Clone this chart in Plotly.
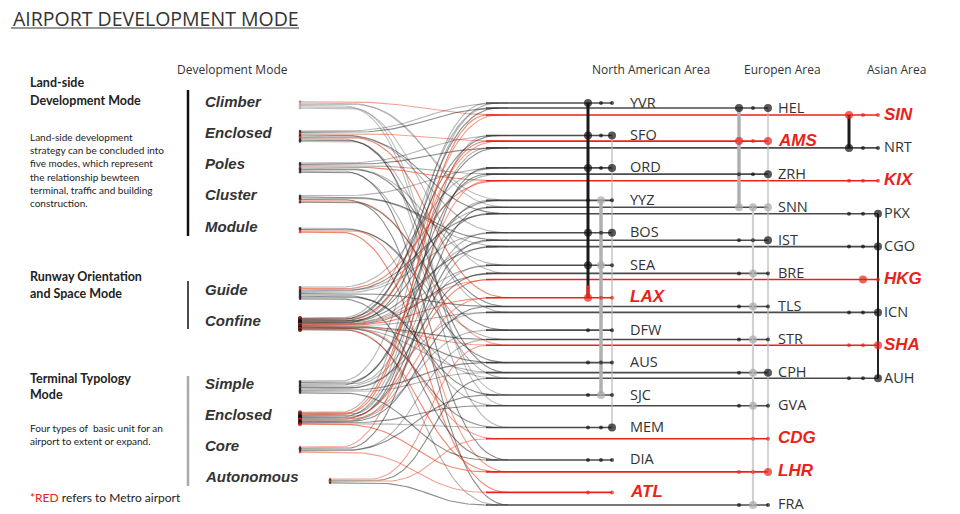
import numpy as np
import plotly.graph_objects as go

# ---------------- data ----------------
LAND_MODES = ["Climber", "Enclosed", "Poles", "Cluster", "Module"]
RUNWAY_MODES = ["Guide", "Confine"]
TERMINAL_MODES = ["Simple", "Enclosed", "Core", "Autonomous"]

NA_CODES = ["YVR", "SFO", "ORD", "YYZ", "BOS", "SEA", "LAX", "DFW", "AUS", "SJC", "MEM", "DIA", "ATL"]
NA_LAND = ["Enclosed", "Poles", "Cluster", "Climber", "Enclosed", "Poles", "Enclosed", "Cluster",
           "Module", "Climber", "Enclosed", "Poles", "Module"]
NA_RUNWAY = ["Confine", "Confine", "Guide", "Confine", "Guide", "Confine", "Confine", None,
             "Confine", "Guide", "Confine", "Guide", None]
NA_TERMINAL = ["Simple", "Enclosed", "Enclosed", "Simple", "Enclosed", "Simple", "Enclosed", "Enclosed",
               "Simple", "Core", "Enclosed", "Simple", "Core"]
NA_DOTS = ["Bk Sk Sk", "Bk Sk Bk", "Bk Sk Bk", "Sk Bg Sk", "Bk Sk Bk", "Bk Bg Sk", "Br Sr Sr",
           "Sk -- Sk", "Sk Sk Sk", "Sk Bg Sk", "Sk Sk Bk", "Sk Sk Sk", "Sr -- Sr"]

EU_CODES = ["HEL", "AMS", "ZRH", "SNN", "IST", "BRE", "TLS", "STR", "CPH", "GVA", "CDG", "LHR", "FRA"]
EU_LAND = ["Enclosed", "Enclosed", "Poles", "Climber", "Cluster", "Climber", "Poles", "Module",
           "Enclosed", "Climber", None, "Module", "Cluster"]
EU_RUNWAY = ["Confine", "Confine", "Confine", "Guide", "Confine", "Confine", "Guide", "Confine",
             "Confine", "Guide", "Confine", "Confine", "Confine"]
EU_TERMINAL = ["Enclosed", "Enclosed", "Simple", "Core", "Enclosed", "Simple", "Enclosed", "Core",
               "Simple", "Enclosed", "Autonomous", "Enclosed", "Autonomous"]
EU_DOTS = ["Bk Sk Bk", "Br Sr Br", "Sk Sk Bk", "Bg Bg Bg", "Sk Sk Bk", "Sk Bg Sk", "Sk Bg Sk",
           "Sk Bg Sk", "Sk Bg Bk", "Sk Bg Sk", "-- Sr Sr", "Sr Sr Br", "Sk Bg Sk"]

ASIA_CODES = ["SIN", "NRT", "KIX", "PKX", "CGO", "HKG", "ICN", "SHA", "AUH"]
ASIA_LAND = ["Climber", "Poles", "Poles", "Enclosed", "Cluster", None, "Enclosed", "Cluster", "Poles"]
ASIA_RUNWAY = ["Confine", "Confine", "Guide", "Guide", "Confine", "Confine", "Confine", "Confine", "Guide"]
ASIA_TERMINAL = ["Enclosed", "Enclosed", "Core", "Simple", "Enclosed", "Enclosed", "Simple",
                 "Autonomous", "Autonomous"]
ASIA_DOTS = ["Br Sr Sr", "Bk Sk Sk", "Sr Sr Sr", "Sk Sk Bk", "Sk Sk Bk", "-- Br Sr", "Sk Sk Bk",
             "Sr Sr Br", "Sk Sk Bk"]

METRO = ["SIN", "AMS", "KIX", "HKG", "SHA", "LAX", "CDG", "LHR", "ATL"]

# vertical connector bars: area, dot column, first airport, last airport, tone
BARS = [
    ("NA", 0, "YVR", "LAX", "dark"), ("NA", 1, "YYZ", "SJC", "mid"), ("NA", 2, "SFO", "MEM", "thin"),
    ("EU", 0, "HEL", "SNN", "mid"), ("EU", 1, "SNN", "FRA", "light"), ("EU", 2, "HEL", "LHR", "thin"),
    ("ASIA", 0, "SIN", "NRT", "dark"), ("ASIA", 2, "PKX", "AUH", "darkthin"),
]

AREA_TITLES = {"NA": "North American Area", "EU": "Europen Area", "ASIA": "Asian Area"}

# ---------------- layout helpers ----------------
W, H = 960, 514
RED = "#e8231a"
ROW0 = {"NA": 103, "EU": 108, "ASIA": 115}
ROW_STEP = {"NA": 32.45, "EU": 33.08, "ASIA": 32.9}
DOT_X = {"NA": [588, 601, 612], "EU": [739, 753, 768], "ASIA": [849, 863, 878]}
LABEL_X = {"NA": 628, "EU": 776, "ASIA": 882}
TITLE_X = {"NA": 651, "EU": 782, "ASIA": 896}

airports = []
for area, codes, land, runway, term, dots in [
    ("NA", NA_CODES, NA_LAND, NA_RUNWAY, NA_TERMINAL, NA_DOTS),
    ("EU", EU_CODES, EU_LAND, EU_RUNWAY, EU_TERMINAL, EU_DOTS),
    ("ASIA", ASIA_CODES, ASIA_LAND, ASIA_RUNWAY, ASIA_TERMINAL, ASIA_DOTS),
]:
    for i, c in enumerate(codes):
        airports.append(dict(code=c, area=area, y=ROW0[area] + i * ROW_STEP[area],
                             modes=[land[i], runway[i], term[i]], dots=dots[i].split(),
                             metro=c in METRO))
by_code = {a["code"]: a for a in airports}

# mode label positions (left column)
categories = [
    (LAND_MODES, 101, 31.3),
    (RUNWAY_MODES, 289, 31.0),
    (TERMINAL_MODES, 383, 31.3),
]
END_X = [508, 498, 488]

fig = go.Figure()


def curve(sx, cx, y0, ex, y1):
    t = np.linspace(0, 1, 40)
    k = (ex - cx) * 0.5
    bx = (1 - t) ** 3 * cx + 3 * (1 - t) ** 2 * t * (cx + k) + 3 * (1 - t) * t ** 2 * (ex - k) + t ** 3 * ex
    by = (1 - t) ** 3 * y0 + 3 * (1 - t) ** 2 * t * y0 + 3 * (1 - t) * t ** 2 * y1 + t ** 3 * y1
    return [sx] + list(bx), [y0] + list(by)


port_marks = []
for ci, (modes, y0, step) in enumerate(categories):
    for mi, mode in enumerate(modes):
        members = sorted([a for a in airports if a["modes"][ci] == mode], key=lambda a: a["y"])
        n = len(members)
        cy = y0 + mi * step + 4
        gap = min(1.3, 12.0 / max(n - 1, 1))
        sx = 330 if mode == "Autonomous" else 300
        for j, a in enumerate(members):
            py = cy + (j - (n - 1) / 2) * gap
            if a["metro"]:
                col = "rgba(232,70,35,%.2f)" % (0.65 if j % 2 else 0.5)
            elif ci == 0 and mode == "Climber":
                col = "rgba(150,150,150,0.6)"
            else:
                col = "rgba(25,25,25,%.2f)" % (0.5 if j % 2 else 0.32)
            xs, ys = curve(sx, sx + 40 + (j % 3) * 6, py, END_X[ci], a["y"])
            fig.add_trace(go.Scatter(x=xs, y=ys, mode="lines", line=dict(color=col, width=1.1),
                                     hoverinfo="skip", showlegend=False))
            pc = RED if a["metro"] else ("#aaaaaa" if mode == "Climber" else "#111111")
            big = mode == "Confine" or (ci == 2 and mode == "Enclosed")
            port_marks.append((sx, py, pc, 4 if big else 2.5))

# port end markers
fig.add_trace(go.Scatter(x=[p[0] for p in port_marks], y=[p[1] for p in port_marks], mode="markers",
                         marker=dict(color=[p[2] for p in port_marks], size=[p[3] for p in port_marks],
                                     symbol="circle", line=dict(width=0)),
                         hoverinfo="skip", showlegend=False))

# horizontal airport lines
for a in airports:
    dx = DOT_X[a["area"]]
    col = RED if a["metro"] else "rgba(55,55,55,0.9)"
    fig.add_trace(go.Scatter(x=[486, dx[2]], y=[a["y"], a["y"]], mode="lines",
                             line=dict(color=col, width=1.6), hoverinfo="skip", showlegend=False))

# vertical bars
BAR_STYLE = {"dark": ("#1a1a1a", 3), "darkthin": ("#222222", 2), "mid": ("#b0b0b0", 3.5),
             "light": ("#d0d0d0", 2.2), "thin": ("#b8b8b8", 1.2)}
for area, col_i, c0, c1, tone in BARS:
    colr, wd = BAR_STYLE[tone]
    x = DOT_X[area][col_i]
    fig.add_trace(go.Scatter(x=[x, x], y=[by_code[c0]["y"], by_code[c1]["y"]], mode="lines",
                             line=dict(color=colr, width=wd), hoverinfo="skip", showlegend=False))
# red tail of the NA bar at LAX
fig.add_trace(go.Scatter(x=[DOT_X["NA"][0]] * 2, y=[by_code["SEA"]["y"] + 20, by_code["LAX"]["y"]],
                         mode="lines", line=dict(color=RED, width=3), hoverinfo="skip", showlegend=False))

# dots
DOT_COL = {"k": "#111111", "g": "#aaaaaa", "r": RED}
dx_, dy_, dc_, ds_ = [], [], [], []
for a in airports:
    for k, d in enumerate(a["dots"]):
        if d == "--":
            continue
        dx_.append(DOT_X[a["area"]][k])
        dy_.append(a["y"])
        dc_.append(DOT_COL[d[1]])
        ds_.append(8 if d[0] == "B" else 4)
fig.add_trace(go.Scatter(x=dx_, y=dy_, mode="markers", marker=dict(color=dc_, size=ds_, line=dict(width=0)),
                         hoverinfo="skip", showlegend=False))


def txt(x, y, s, size, color="#333333", family="Lato", xanchor="left"):
    fig.add_annotation(x=x, y=y, text=s, showarrow=False, xref="x", yref="y", xanchor=xanchor,
                       yanchor="middle", font=dict(size=size, color=color, family=family))


# airport labels
for a in airports:
    if a["metro"]:
        txt(LABEL_X[a["area"]], a["y"] - 1, "<b><i>%s</i></b>" % a["code"], 17, RED, "Liberation Sans")
    else:
        txt(LABEL_X[a["area"]], a["y"] - 1, a["code"], 14.5, "#333333", "Open Sans")

for area, t in AREA_TITLES.items():
    txt(TITLE_X[area], 69, t, 12, "#333333", "Open Sans", "center")

# mode labels and group bars
for ci, (modes, y0, step) in enumerate(categories):
    for mi, mode in enumerate(modes):
        txt(203, y0 + mi * step, "<b><i>%s</i></b>" % mode, 15, "#333333", "Liberation Sans")
fig.add_trace(go.Scatter(x=[188, 188], y=[90, 236], mode="lines", line=dict(color="#111", width=2.5),
                         hoverinfo="skip", showlegend=False))
fig.add_trace(go.Scatter(x=[188, 188], y=[281, 329], mode="lines", line=dict(color="#111", width=1.5),
                         hoverinfo="skip", showlegend=False))
fig.add_trace(go.Scatter(x=[188, 188], y=[376, 486], mode="lines", line=dict(color="#aaaaaa", width=2.5),
                         hoverinfo="skip", showlegend=False))

txt(232, 69, "Development Mode", 12, "#333333", "Open Sans", "center")

# left texts
txt(11, 18, "AIRPORT DEVELOPMENT MODE", 19.5, "#333333", "Open Sans")
fig.add_shape(type="line", x0=11, x1=299, y0=28, y1=28, line=dict(color="#333333", width=1.2))

txt(28, 82, "<b>Land-side</b>", 12.5, "#222222")
txt(28, 100, "<b>Development Mode</b>", 12.5, "#222222")
desc = ["Land-side development", "strategy can be concluded into", "five modes, which represent",
        "the relationship bewteen", "terminal, traffic and building", "construction."]
for i, s in enumerate(desc):
    txt(28, 137 + i * 13.2, s, 10, "#222222")
txt(28, 276, "<b>Runway Orientation</b>", 12.5, "#222222")
txt(28, 293, "<b>and Space Mode</b>", 12.5, "#222222")
txt(28, 378, "<b>Terminal Typology</b>", 12.5, "#222222")
txt(28, 394, "<b>Mode</b>", 12.5, "#222222")
txt(28, 428, "Four types of  basic unit for an", 10, "#222222")
txt(28, 441, "airport to extent or expand.", 10, "#222222")
txt(28, 497, "<span style='color:%s'>*RED</span> refers to Metro airport" % RED, 12, "#222222")

fig.update_layout(
    width=W, height=H, margin=dict(l=0, r=0, t=0, b=0),
    paper_bgcolor="white", plot_bgcolor="white", showlegend=False,
    xaxis=dict(range=[0, W], visible=False, fixedrange=True),
    yaxis=dict(range=[H, 0], visible=False, fixedrange=True),
)

fig.write_html("out.html", config={"displayModeBar": False},
               post_script="document.body.style.margin='0';")
